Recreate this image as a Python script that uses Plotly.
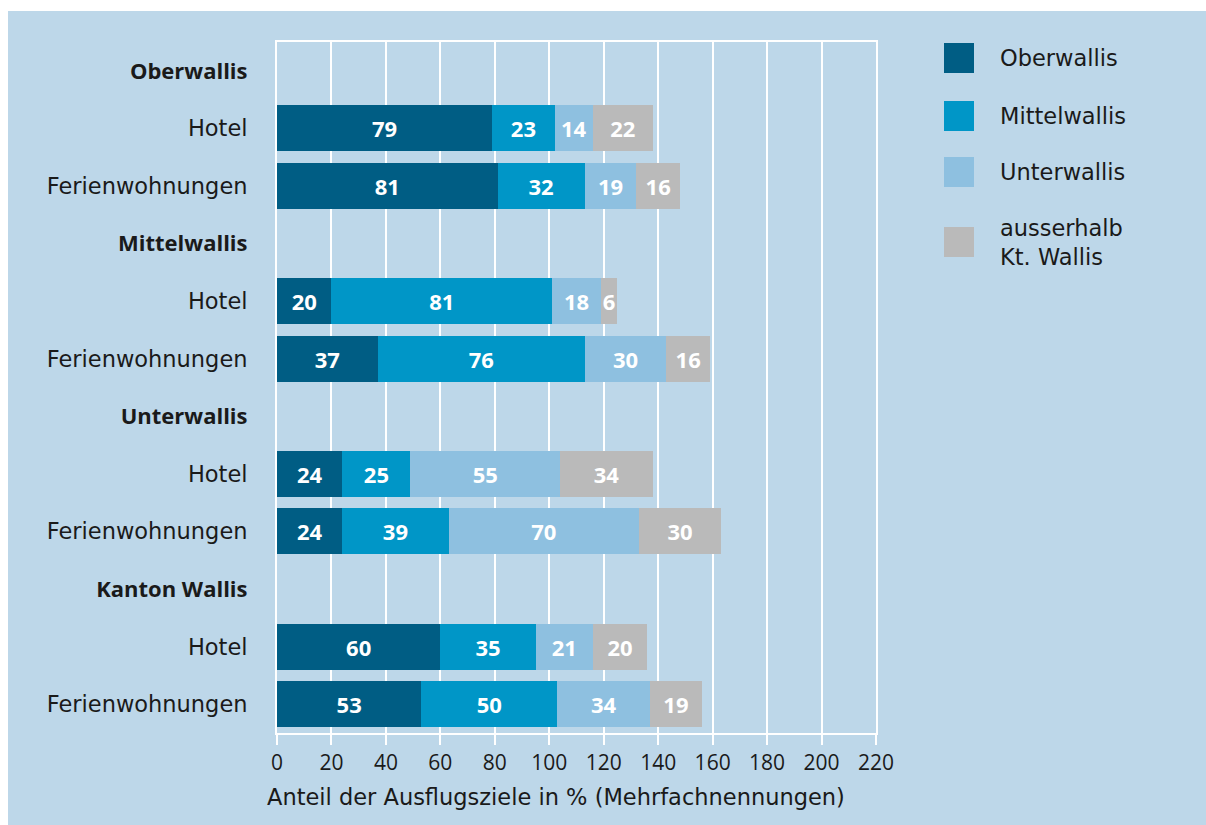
import plotly.graph_objects as go

# ---- data ----
row_labels = ["Oberwallis", "Hotel", "Ferienwohnungen",
              "Mittelwallis", "Hotel", "Ferienwohnungen",
              "Unterwallis", "Hotel", "Ferienwohnungen",
              "Kanton Wallis", "Hotel", "Ferienwohnungen"]
is_header = [True, False, False, True, False, False,
             True, False, False, True, False, False]
series_names = ["Oberwallis", "Mittelwallis", "Unterwallis", "ausserhalb<br>Kt. Wallis"]
oberwallis   = [None, 79, 81, None, 20, 37, None, 24, 24, None, 60, 53]
mittelwallis = [None, 23, 32, None, 81, 76, None, 25, 39, None, 35, 50]
unterwallis  = [None, 14, 19, None, 18, 30, None, 55, 70, None, 21, 34]
ausserhalb   = [None, 22, 16, None, 6, 16, None, 34, 30, None, 20, 19]
x_ticks = [0, 20, 40, 60, 80, 100, 120, 140, 160, 180, 200, 220]
x_title = "Anteil der Ausflugsziele in % (Mehrfachnennungen)"

colors = ["#005d84", "#0096c7", "#8ec0e0", "#bababa"]
BG = "#bdd7e9"
FONT = "DejaVu Sans"
BOLD = "Open Sans"
TXT = "#1a1a1a"
FS = 22.5

W, H = 1206, 825
L, R, T, B = 277, 876, 42, 733

row_keys = [f"r{i}" for i in range(len(row_labels))]
tick_text = [f'<span style="font-family:{BOLD};font-weight:bold;font-size:22px">{l}</span>' if h else l
             for l, h in zip(row_labels, is_header)]

fig = go.Figure()
for name, vals, col in zip(series_names, [oberwallis, mittelwallis, unterwallis, ausserhalb], colors):
    fig.add_trace(go.Bar(
        y=row_keys, x=vals, orientation="h", name=name,
        marker=dict(color=col, line=dict(width=0)),
        text=[str(v) if v is not None else "" for v in vals],
        textposition="inside", insidetextanchor="middle", textangle=0,
        constraintext="none",
        textfont=dict(family=BOLD, size=22, color="white", weight="bold"),
        showlegend=False,
    ))

def px2x(p):
    return (p - L) / (R - L)

def py2y(p):
    return (B - p) / (B - T)

shapes = [dict(type="rect", xref="paper", yref="paper",
               x0=px2x(8), x1=px2x(W + 5), y0=py2y(11), y1=py2y(H + 5),
               fillcolor=BG, line=dict(width=0), layer="below")]
annotations = [dict(xref="paper", yref="paper", x=px2x(556), y=py2y(797),
                    xanchor="center", yanchor="middle", text=x_title, showarrow=False,
                    font=dict(family=FONT, size=FS, color=TXT))]
leg_centers = [58, 116, 172, 242]
for name, col, cy in zip(series_names, colors, leg_centers):
    shapes.append(dict(type="rect", xref="paper", yref="paper",
                       x0=px2x(944), x1=px2x(974), y0=py2y(cy - 15), y1=py2y(cy + 15),
                       fillcolor=col, line=dict(width=0)))
    annotations.append(dict(xref="paper", yref="paper", x=px2x(998), y=py2y(cy),
                            xanchor="left", yanchor="middle", align="left",
                            text=name, showarrow=False,
                            font=dict(family=FONT, size=FS, color=TXT)))

fig.update_layout(
    width=W, height=H,
    margin=dict(l=L, r=W - R, t=T, b=H - B),
    paper_bgcolor="white", plot_bgcolor=BG,
    barmode="stack", bargap=0.2,
    uniformtext=dict(mode=False),
    font=dict(family=FONT, size=FS, color=TXT),
    shapes=shapes, annotations=annotations,
    xaxis=dict(range=[0, 220], tickvals=x_ticks, ticktext=[str(t) for t in x_ticks],
               showgrid=True, gridcolor="white", gridwidth=2,
               showline=True, linecolor="white", linewidth=2, mirror=True,
               ticks="outside", ticklen=10, tickwidth=2, tickcolor="white",
               zeroline=False, tickfont=dict(family=BOLD, size=21, color=TXT)),
    yaxis=dict(categoryorder="array", categoryarray=row_keys,
               tickvals=row_keys, ticktext=tick_text, autorange="reversed",
               showgrid=False, showline=True, linecolor="white", linewidth=2, mirror=True,
               ticks="", ticklabelstandoff=23, tickfont=dict(family=FONT, size=FS, color=TXT)),
)

fig.write_html("out.html")
